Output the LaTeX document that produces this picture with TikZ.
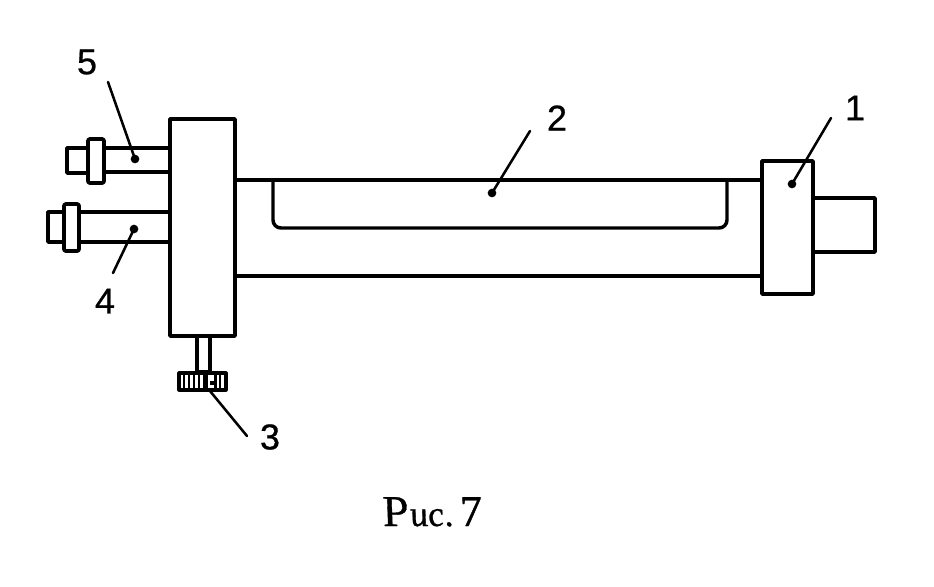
\documentclass[tikz,border=0pt]{standalone}
\usepackage{fontspec}
\setmainfont{Liberation Sans}[FakeBold=0.6]
\newfontfamily\capfont{Liberation Serif}[ItalicFeatures={FakeSlant=-0.21,FakeBold=0.8}]
\tikzset{
  x=0.75pt,y=-0.75pt,
  part/.style={draw=black,line width=2.8pt,line join=round,fill=white},
  tube/.style={draw=black,line width=2.6pt,line cap=round},
  lead/.style={draw=black,line width=1.9pt,line cap=round},
  tipdot/.style={circle,fill=black,inner sep=0pt,minimum size=6.5pt},
  num/.style={inner sep=0pt,font=\fontsize{27}{30}\selectfont},
  knobline/.style={draw=black,line width=2pt}
}
\begin{document}
\begin{tikzpicture}
\useasboundingbox[fill=white] (0,0) rectangle (934,586);
% main tube
\draw[tube] (235,180) -- (762,180);
\draw[tube] (235,276) -- (762,276);
% inner tray
\draw[tube,rounded corners=6pt] (273,180) -- (273,228) -- (727,228) -- (727,180);
% right stub and flange
\draw[part] (813,198) rectangle (875,252);
\draw[part] (762,161) rectangle (813,294);
% left pipes
\draw[part] (67,148) rectangle (90,173);
\draw[part] (100,148) rectangle (170,172);
\draw[part,rounded corners=1.5pt] (88,139) rectangle (104,183);
\draw[part] (48,212) rectangle (66,242);
\draw[part] (75,212) rectangle (170,242);
\draw[part,rounded corners=1.5pt] (64,204) rectangle (79,251);
% knob stem and knob
\draw[part] (197,336) rectangle (210,372);
\draw[part,line width=2.4pt] (179,373) rectangle (226,390);
\foreach \kx in {184,189,194,199,220}
  \draw[knobline] (\kx,373) -- (\kx,390);
\fill (203,375) rectangle (208,389);
\fill (210,381) rectangle (214,385);
\fill (214,375) rectangle (217,389);
% left block
\draw[part] (170,119) rectangle (235,336);
% labels
\node[num] (n5) at (87,62) {5};
\node[num] (n4) at (105,301) {4};
\node[num] (n3) at (270,437) {3};
\node[num] (n2) at (557,118) {2};
\node[num] (n1) at (855,108) {1};
\node[inner sep=0pt,anchor=base] (cap) at (435,526) {\capfont\itshape\fontsize{33}{36}\selectfont Р\fontsize{27}{30}\selectfont ис.\kern6pt\fontsize{33}{36}\selectfont 7};
% leaders
\coordinate (s5) at (108,82);  \coordinate (e5) at (135,159);
\coordinate (s4) at (113,273); \coordinate (e4) at (134,229);
\coordinate (s3) at (247,436); \coordinate (e3) at (210,391);
\coordinate (s2) at (530,131); \coordinate (e2) at (492,193);
\coordinate (s1) at (831,118); \coordinate (e1) at (792,184);
\foreach \a in {1,2,3,4,5}{
  \draw[lead] (s\a) -- (e\a);
}
\node[tipdot] (d5) at (e5) {};
\node[tipdot] (d4) at (e4) {};
\node[tipdot] (d2) at (e2) {};
\node[tipdot] (d1) at (e1) {};
\end{tikzpicture}
\end{document}
